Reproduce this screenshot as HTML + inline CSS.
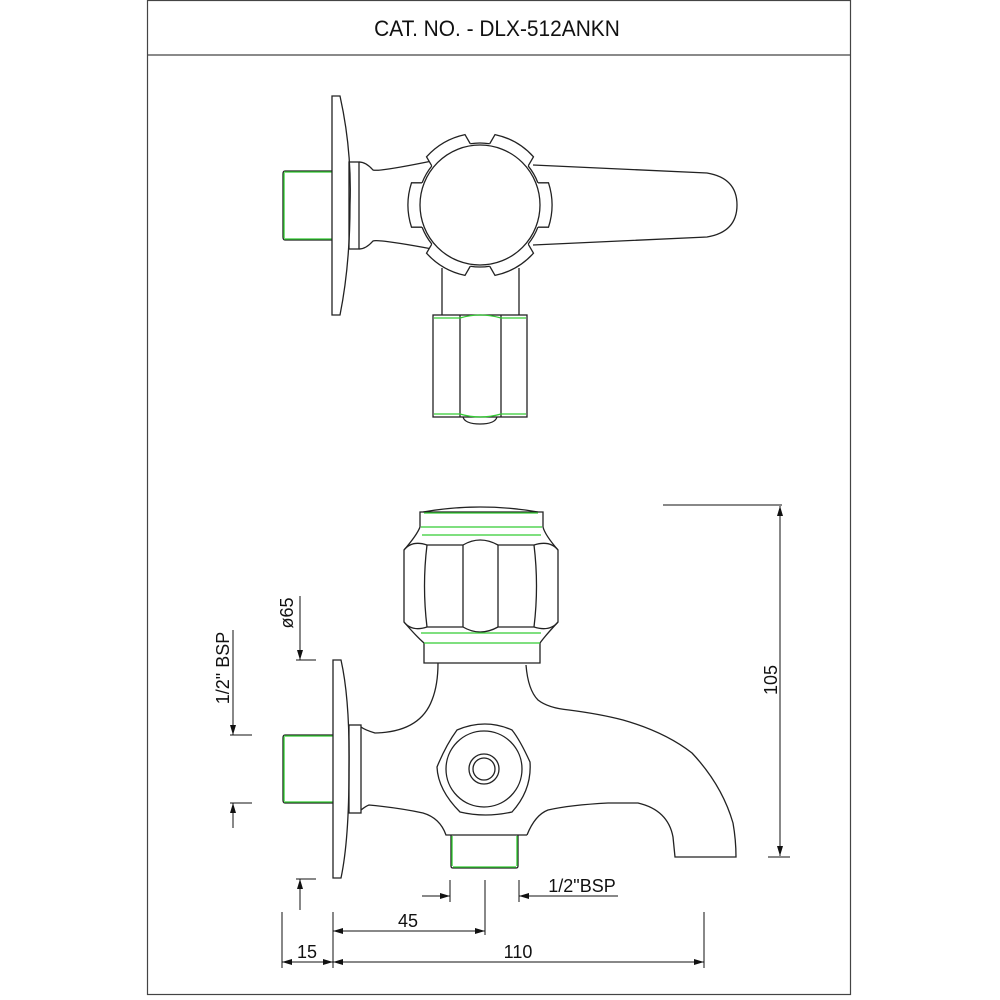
<!DOCTYPE html>
<html><head><meta charset="utf-8"><style>
html,body{margin:0;padding:0;background:#fff}
svg{display:block}
text{font-family:"Liberation Sans",sans-serif;fill:#111}
</style></head><body>
<svg width="1000" height="1000" viewBox="0 0 1000 1000" xmlns="http://www.w3.org/2000/svg">
<defs>
<marker id="a" viewBox="0 0 10 6" refX="10" refY="3" markerWidth="10" markerHeight="6" markerUnits="userSpaceOnUse" orient="auto-start-reverse"><path d="M0,0L10,3L0,6Z" fill="#111"/></marker>
</defs>
<rect x="147.5" y="0.5" width="703" height="994" fill="none" stroke="#444" stroke-width="1.2"/>
<line x1="147" y1="55" x2="851" y2="55" stroke="#444" stroke-width="1.2"/>
<text x="497" y="36" font-size="22" text-anchor="middle" transform="translate(497 0) scale(0.95 1) translate(-497 0)">CAT. NO. - DLX-512ANKN</text>

<g fill="none" stroke="#222" stroke-width="1.3">
<!-- TOP VIEW -->
<path d="M332,171 L285,171 Q283,171 283,174 L283,237 Q283,240 285,240 L332,240"/>
<path d="M284,172 L332,172 M284,239 L332,239 M284,173 L284,238" stroke="#3c3"/>
<path d="M332,96 L340,96 Q352,150 350,205 Q350,265 340,315 L332,315 Z"/>
<rect x="349" y="162" width="10" height="87"/>
<path d="M359,162 Q366,162 373,170 Q378,172 432,161"/>
<path d="M359,249 Q366,249 373,241 Q378,239 432,249"/>
<path d="M533,165 L707,173 Q737,178 737,205 Q737,232 707,237 L533,245"/>
<path d="M442,268 L442,315 M519,268 L519,315"/>
<g transform="translate(480,205)">
<g id="tab"><path d="M57.9,-22.2 L68.5,-22.2 A72,72 0 0 1 68.5,22.2 L57.9,22.2" fill="#fff"/></g>
<use href="#tab" transform="rotate(60)"/>
<use href="#tab" transform="rotate(120)"/>
<use href="#tab" transform="rotate(180)"/>
<use href="#tab" transform="rotate(240)"/>
<use href="#tab" transform="rotate(300)"/>
<circle r="62" fill="#fff" stroke="none"/>
<g id="notch"><path d="M57.9,22.2 A62,62 0 0 1 48.2,39.0"/></g>
<use href="#notch" transform="rotate(60)"/>
<use href="#notch" transform="rotate(120)"/>
<use href="#notch" transform="rotate(180)"/>
<use href="#notch" transform="rotate(240)"/>
<use href="#notch" transform="rotate(300)"/>
<circle r="60"/>
</g>
<rect x="433" y="315" width="94" height="102"/>
<path d="M460,315 L460,417 M501,315 L501,417"/>
<path d="M434,318 L460,318 Q480,312 501,318 L526,318 M434,414 L460,414 Q480,420 501,414 L526,414" stroke="#3c3"/>
<path d="M463,417 Q465,424 480,424 Q495,424 497,417"/>

<!-- FRONT VIEW -->
<path d="M333,735 L285,735 Q283,735 283,738 L283,800 Q283,803 285,803 L333,803"/>
<path d="M284,736 L333,736 M284,802 L333,802 M284,737 L284,801" stroke="#3c3"/>
<path d="M333,660 L341,660 Q350,700 349,770 Q349,840 341,878 L333,878 Z"/>
<rect x="349" y="725" width="12" height="88"/>
<path d="M361,727 Q365,730 375,733 Q420,732 432,700 Q438,685 438,663"/>
<path d="M526,665 Q528,690 538,700 Q548,708 569,710 Q600,714 623,720 Q665,732 692,753 Q722,785 733,823 Q736,840 736,857 L675,857 L673,837 Q668,810 638,803 L608,803 Q570,805 548,810 Q535,815 527,835"/>
<path d="M361,810 Q366,806 369,805 Q400,808 423,813 Q440,818 446,835 L527,835"/>
<path d="M451,835 L451,866 Q451,868 453,868 L516,868 Q518,868 518,866 L518,835"/>
<path d="M452,836 L452,866 M453,867 L516,867 M517,836 L517,866" stroke="#3c3"/>
<path d="M423,512 Q480,502 538,512"/>
<path d="M420,512 L543,512 L543,527 Q545,535 558,550 L558,622 Q545,636 540,643 L540,663 L424,663 L424,643 Q416,636 404,622 L404,550 Q417,535 420,527 Z"/>
<path d="M404,550 Q412,540 427,545 L463,545 Q480,535 498,545 L534,545 Q550,540 558,550"/>
<path d="M404,622 Q412,632 427,627 L463,627 Q480,637 498,627 L534,627 Q550,632 558,622"/>
<path d="M427,545 Q422,586 427,627 M534,545 Q539,586 534,627 M463,545 L463,627 M498,545 L498,627"/>
<path d="M424,513 L538,513 M421,527 L542,527 M422,535 L541,535 M421,633 L541,633 M424,643 L540,643" stroke="#3c3"/>
<path d="M457,730 Q485,718 512,730 Q520,740 530,762 Q532,790 512,812 Q485,818 460,812 Q438,790 437,767 Q446,745 457,730 Z"/>
<circle cx="484" cy="769" r="38"/>
<circle cx="484" cy="769" r="15"/>
<circle cx="484" cy="769" r="11"/>
</g>

<g stroke="#111" stroke-width="1" fill="none">
<line x1="663" y1="505" x2="782" y2="505"/>
<line x1="768" y1="857" x2="790" y2="857"/>
<line x1="780" y1="506" x2="780" y2="856" marker-start="url(#a)" marker-end="url(#a)"/>
<line x1="300" y1="596" x2="300" y2="660" marker-end="url(#a)"/>
<line x1="296" y1="660" x2="316" y2="660"/>
<line x1="233" y1="630" x2="233" y2="735" marker-end="url(#a)"/>
<line x1="230" y1="735" x2="252" y2="735"/>
<line x1="230" y1="803" x2="252" y2="803"/>
<line x1="233" y1="828" x2="233" y2="803" marker-end="url(#a)"/>
<line x1="296" y1="879" x2="316" y2="879"/>
<line x1="300" y1="910" x2="300" y2="879" marker-end="url(#a)"/>
<line x1="450" y1="880" x2="450" y2="902"/>
<line x1="422" y1="896" x2="450" y2="896" marker-end="url(#a)"/>
<line x1="485" y1="880" x2="485" y2="935"/>
<line x1="519" y1="880" x2="519" y2="902"/>
<line x1="618" y1="896" x2="519" y2="896" marker-end="url(#a)"/>
<line x1="333" y1="912" x2="333" y2="968"/>
<line x1="333" y1="931" x2="485" y2="931" marker-start="url(#a)" marker-end="url(#a)"/>
<line x1="282" y1="912" x2="282" y2="968"/>
<line x1="704" y1="912" x2="704" y2="968"/>
<line x1="282" y1="962" x2="333" y2="962" marker-start="url(#a)" marker-end="url(#a)"/>
<line x1="333" y1="962" x2="704" y2="962" marker-start="url(#a)" marker-end="url(#a)"/>
</g>
<g font-size="18">
<text x="307" y="958" text-anchor="middle">15</text>
<text x="518" y="958" text-anchor="middle">110</text>
<text x="408" y="927" text-anchor="middle">45</text>
<text x="582" y="892" text-anchor="middle">1/2"BSP</text>
<text transform="translate(777 680) rotate(-90)" text-anchor="middle">105</text>
<text transform="translate(293 613) rotate(-90)" text-anchor="middle">ø65</text>
<text transform="translate(229 668) rotate(-90)" text-anchor="middle">1/2" BSP</text>
</g>
</svg>
</body></html>
